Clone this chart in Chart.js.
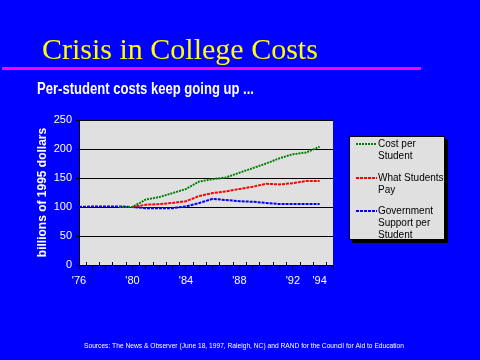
<!DOCTYPE html>
<html>
<head>
<meta charset="utf-8">
<script src="https://cdn.jsdelivr.net/npm/chart.js@4"></script>
<style>
html,body{margin:0;padding:0;background:#0000FF;}
canvas{display:block;}
</style>
</head>
<body>
<canvas id="c" width="480" height="360"></canvas>
<script>
// ---- data ----
const years = [1976,1977,1978,1979,1980,1981,1982,1983,1984,1985,1986,1987,1988,1989,1990,1991,1992,1993,1994];
const costPerStudent   = [null,null,null,100,100,113,117,124,131,144,148,151,159,167,175,184,191,194,204];
const whatStudentsPay  = [null,null,null,null,100,104,105,107,110,119,124,127,131,135,140,139,141,145,145];
const governmentSupport= [100,101,101,101,100,98,98,98,101,107,114,112,110,109,107,105,105,105,105];
const seriesNames = ['Cost per\nStudent', 'What Students\nPay', 'Government\nSupport per\nStudent'];
const seriesColors = ['#008000', '#FF0000', '#0000FF'];
const seriesDash = [[2,1], [3,1], [3,1]];
const xTickLabels = {1976:"'76",1980:"'80",1984:"'84",1988:"'88",1992:"'92",1994:"'94"};
const yTicks = [0,50,100,150,200,250];
const titleText = 'Crisis in College Costs';
const subtitleText = 'Per-student costs keep going up ...';
const yTitleText = 'billions of 1995 dollars';
const sourceText = 'Sources: The News & Observer (June 18, 1997, Raleigh, NC) and RAND for the Council for Aid to Education';

function pts(arr){ return years.map((y,i)=>({x:y, y:arr[i]})); }

const decor = {
  id:'decor',
  beforeDraw(chart){
    const ctx = chart.ctx, a = chart.chartArea;
    ctx.save();
    ctx.fillStyle = '#0000FF';
    ctx.fillRect(0,0,chart.width,chart.height);
    ctx.fillStyle = '#E0E0E0';
    ctx.fillRect(a.left,a.top,a.right-a.left,a.bottom-a.top);
    ctx.restore();
  },
  afterDraw(chart){
    const ctx = chart.ctx, a = chart.chartArea, xs = chart.scales.x;
    ctx.save();
    // half-year inner ticks
    ctx.strokeStyle = '#000'; ctx.lineWidth = 1;
    for (let v = years[0]; v < xs.max; v++) {
      const px = Math.round(xs.getPixelForValue(v + 0.5)) + 0.5;
      ctx.beginPath(); ctx.moveTo(px, a.bottom); ctx.lineTo(px, a.bottom - 3); ctx.stroke();
    }
    // title
    ctx.fillStyle = '#FFFF00';
    ctx.font = '30px "Liberation Serif", "Times New Roman", serif';
    ctx.textBaseline = 'alphabetic'; ctx.textAlign = 'left';
    ctx.fillText(titleText, 42, 59, 291);
    // magenta rule
    ctx.fillStyle = '#FF00FF';
    ctx.fillRect(2, 67, 419, 3);
    // subtitle
    ctx.fillStyle = '#FFFFFF';
    ctx.font = 'bold 16px "Liberation Sans Narrow", "Liberation Sans", Arial, sans-serif';
    ctx.fillText(subtitleText, 37, 94, 217);
    // y axis title
    ctx.save();
    ctx.translate(43, 192.5); ctx.rotate(-Math.PI/2);
    ctx.textAlign = 'center'; ctx.textBaseline = 'middle';
    ctx.font = 'bold 12px "Liberation Sans", Arial, sans-serif';
    ctx.fillText(yTitleText, 0, 0, 131);
    ctx.restore();
    // legend
    const lx = 349, ly = 136, lw = 96, lh = 104;
    ctx.fillStyle = '#000';
    ctx.fillRect(lx + 3, ly + 3, lw, lh);
    ctx.fillStyle = '#E0E0E0';
    ctx.fillRect(lx, ly, lw, lh);
    ctx.strokeStyle = '#000'; ctx.lineWidth = 1;
    ctx.strokeRect(lx + 0.5, ly + 0.5, lw - 1, lh - 1);
    const rowY = [144, 178, 211];
    ctx.font = '10px "Liberation Sans", Arial, sans-serif';
    ctx.textAlign = 'left'; ctx.textBaseline = 'middle';
    chart.data.datasets.forEach((ds, i) => {
      ctx.strokeStyle = ds.borderColor; ctx.lineWidth = 2;
      ctx.setLineDash(ds.borderDash);
      ctx.beginPath(); ctx.moveTo(356, rowY[i]); ctx.lineTo(377, rowY[i]); ctx.stroke();
      ctx.setLineDash([]);
      ctx.fillStyle = '#000';
      ds.label.split('\n').forEach((t, j) => ctx.fillText(t, 378, rowY[i] + j * 12));
    });
    // source
    ctx.fillStyle = '#FFFFFF';
    ctx.font = '7px "Liberation Sans", Arial, sans-serif';
    ctx.textBaseline = 'middle';
    ctx.fillText(sourceText, 84, 346, 320);
    ctx.restore();
  }
};

new Chart(document.getElementById('c'), {
  type: 'line',
  data: {
    datasets: [costPerStudent, whatStudentsPay, governmentSupport].map((arr, i) => ({
      label: seriesNames[i],
      data: pts(arr),
      borderColor: seriesColors[i],
      backgroundColor: seriesColors[i],
      borderWidth: 2,
      borderDash: seriesDash[i],
      pointRadius: 0,
      tension: 0,
      fill: false,
      spanGaps: false
    }))
  },
  options: {
    responsive: false,
    devicePixelRatio: 1,
    animation: false,
    layout: { padding: { left: 30, top: 120, right: 147, bottom: 70 } },
    plugins: { legend: { display: false }, tooltip: { enabled: false } },
    scales: {
      x: {
        type: 'linear', min: 1976, max: 1995,
        afterFit(s){ s.height = 25; },
        afterBuildTicks(s){ s.ticks = years.concat([1995]).map(v => ({value: v})); },
        ticks: {
          autoSkip: false, maxRotation: 0, color: '#FFFFFF', padding: 5,
          font: { family: '"Liberation Sans", Arial, sans-serif', size: 11 },
          callback: v => xTickLabels[v] || ''
        },
        grid: { drawOnChartArea: false, color: '#000', tickLength: 4, lineWidth: 1 },
        border: { color: '#000', width: 1 }
      },
      y: {
        min: 0, max: 250,
        afterFit(s){ s.width = 49; },
        afterBuildTicks(s){ s.ticks = yTicks.map(v => ({value: v})); },
        ticks: {
          color: '#FFFFFF', padding: 4,
          font: { family: '"Liberation Sans", Arial, sans-serif', size: 11 }
        },
        grid: { color: '#000', lineWidth: 1, drawTicks: true, tickLength: 3 },
        border: { color: '#000', width: 1 }
      }
    }
  },
  plugins: [decor]
});
</script>
</body>
</html>
